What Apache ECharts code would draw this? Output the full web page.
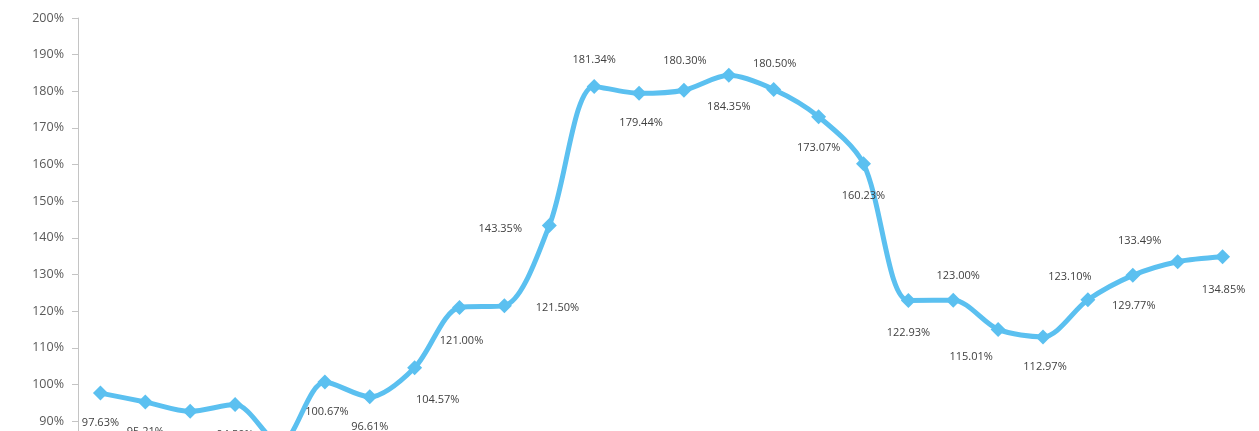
<!DOCTYPE html>
<html>
<head>
<meta charset="utf-8">
<script src="https://cdn.jsdelivr.net/npm/echarts@6/dist/echarts.min.js"></script>
<style>
html,body{margin:0;padding:0;background:#fff;overflow:hidden;width:1259px;height:431px;}
#chart{width:1259px;height:560px;}
</style>
</head>
<body>
<div id="chart"></div>
<script>
// Data
const categories = ['1','2','3','4','5','6','7','8','9','10','11','12','13','14','15','16','17','18','19','20','21','22','23','24','25','26'];
const values = [97.63, 95.21, 92.65, 94.50, 83.80, 100.67, 96.61, 104.57, 121.00, 121.50, 143.35, 181.34, 179.44, 180.30, 184.35, 180.50, 173.07, 160.23, 122.93, 123.00, 115.01, 112.97, 123.10, 129.77, 133.49, 134.85];
const yTickMin = 60, yTickMax = 200, yTickStep = 10;

// Label placement (layout only)
const labelOffsets = [
  [0,30],[0,30],[0,30],[0,30],[0,30],[2,30],[0,30],[23,32],[2,33],[53,2],
  [-49,3],[0,-27],[2,30],[1,-29],[0,32],[1,-26],[0,31],[0,32],[0,32],[5,-24],
  [-27,27],[2,30],[-18,-23],[1,31],[-38,-21],[1,33]
];

const chart = echarts.init(document.getElementById('chart'), null, {renderer:'canvas'});
const seriesData = values.map((v,i)=>({
  value: v,
  label: {offset: labelOffsets[i]}
}));

chart.setOption({
  animation:false,
  grid:{left:78, right:14, top:18, bottom:29, containLabel:false},
  xAxis:{
    type:'category',
    data:categories,
    boundaryGap:true,
    axisLine:{show:false},
    axisTick:{show:false},
    axisLabel:{show:false},
    splitLine:{show:false}
  },
  yAxis:{
    type:'value',
    min:yTickMin, max:yTickMax, interval:yTickStep,
    axisLine:{show:true, lineStyle:{color:'#c4c4c4', width:1}},
    axisTick:{show:true, inside:false, length:6, lineStyle:{color:'#c4c4c4'}},
    splitLine:{show:false},
    axisLabel:{
      formatter: v => v + '%',
      color:'#595959',
      fontFamily:'Open Sans',
      fontSize:12.5,
      margin:14
    }
  },
  series:[{
    type:'line',
    data:seriesData,
    smooth:0.3,
    symbol:'diamond',
    symbolSize:15,
    lineStyle:{color:'#5bc0f0', width:5},
    itemStyle:{color:'#5bc0f0'},
    label:{
      show:true,
      position:'inside',
      formatter: p => p.value.toFixed(2) + '%',
      color:'#404040',
      fontFamily:'Open Sans',
      fontSize:11
    }
  }]
});
</script>
</body>
</html>
